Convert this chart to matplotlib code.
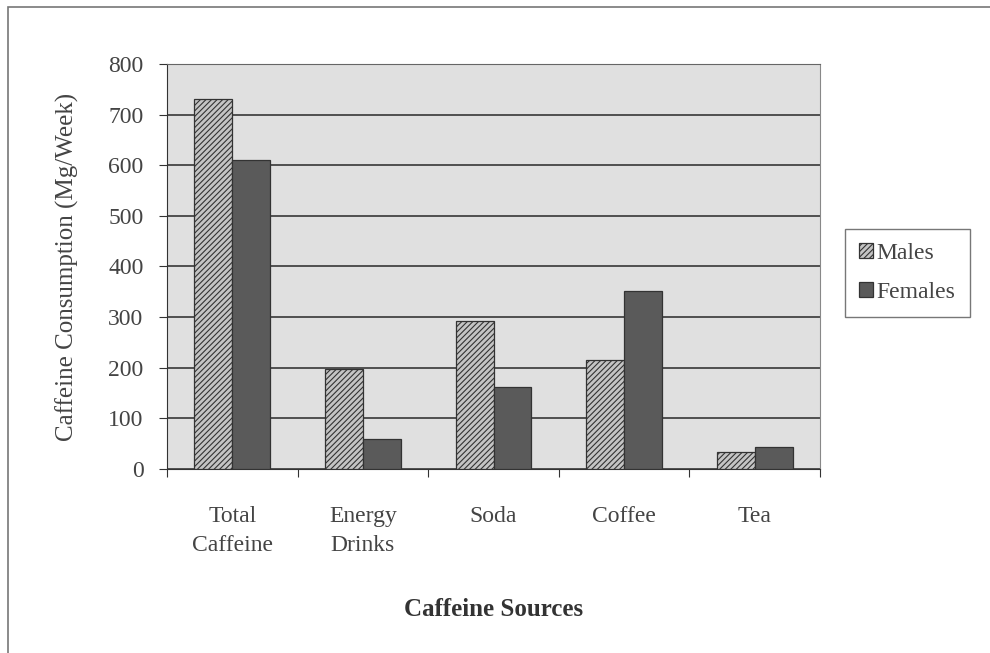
import matplotlib
matplotlib.use("Agg")
import matplotlib.pyplot as plt
import numpy as np
from matplotlib.patches import Rectangle

plt.rcParams['font.family'] = ['Liberation Serif', 'DejaVu Serif']
plt.rcParams['hatch.color'] = '#555555'
plt.rcParams['hatch.linewidth'] = 0.8

# Chart data
categories = ["Total\nCaffeine", "Energy\nDrinks", "Soda", "Coffee", "Tea"]
males = [730, 198, 293, 215, 34]
females = [610, 59, 162, 352, 44]
y_ticks = [0, 100, 200, 300, 400, 500, 600, 700, 800]

fig = plt.figure(figsize=(9.9, 6.53), dpi=100)
ax = fig.add_axes([0.1687, 0.2818, 0.6596, 0.6202])
ax.set_facecolor('#e0e0e0')

x = np.arange(len(categories))
w = 0.29
ax.bar(x - w / 2, males, w, color='#c4c4c4', edgecolor='#333333', linewidth=0.9,
       hatch='//////', label='Males', zorder=3)
ax.bar(x + w / 2, females, w, color='#5a5a5a', edgecolor='#333333', linewidth=0.9,
       label='Females', zorder=3)

ax.set_xlim(-0.5, len(categories) - 0.5)
ax.set_ylim(0, 800)
ax.set_yticks(y_ticks)
ax.tick_params(axis='y', labelsize=17, colors='#333333', labelcolor='#444444',
               length=6, pad=11, direction='out')
ax.yaxis.grid(True, color='#444444', linewidth=1.3, zorder=0)

# category labels between boundary ticks, Excel style
ax.set_xticks(np.arange(-0.5, len(categories), 1.0))
ax.set_xticklabels([])
ax.tick_params(axis='x', length=6, direction='out', colors='#333333')
ax.set_xticks(x, minor=True)
ax.set_xticklabels(categories, minor=True, fontsize=17, color='#444444', linespacing=1.5)
ax.tick_params(axis='x', which='minor', length=0, pad=27)

ax.spines['top'].set_color('#666666')
ax.spines['right'].set_color('#888888')
ax.spines['left'].set_color('#333333')
ax.spines['bottom'].set_color('#333333')

ax.set_ylabel("Caffeine Consumption (Mg/Week)", fontsize=18, color='#444444', labelpad=21)
ax.set_xlabel("Caffeine Sources", fontsize=18, fontweight='bold', color='#333333', labelpad=30)

leg = ax.legend(loc='center left', bbox_to_anchor=(1.038, 0.484), fontsize=17, frameon=True,
                fancybox=False, edgecolor='#555555', handlelength=0.6, handleheight=0.6,
                handletextpad=0.15, labelspacing=0.75, borderpad=0.6, borderaxespad=0)
leg.get_frame().set_linewidth(1.0)
for t in leg.get_texts():
    t.set_color('#444444')

# outer chart border (top and left edges visible in the scan)
fig.add_artist(Rectangle((0.008, -0.05), 1.2, 1.04, transform=fig.transFigure,
                         fill=False, edgecolor='#777777', linewidth=1.2))

fig.savefig("out.png", dpi=100)
